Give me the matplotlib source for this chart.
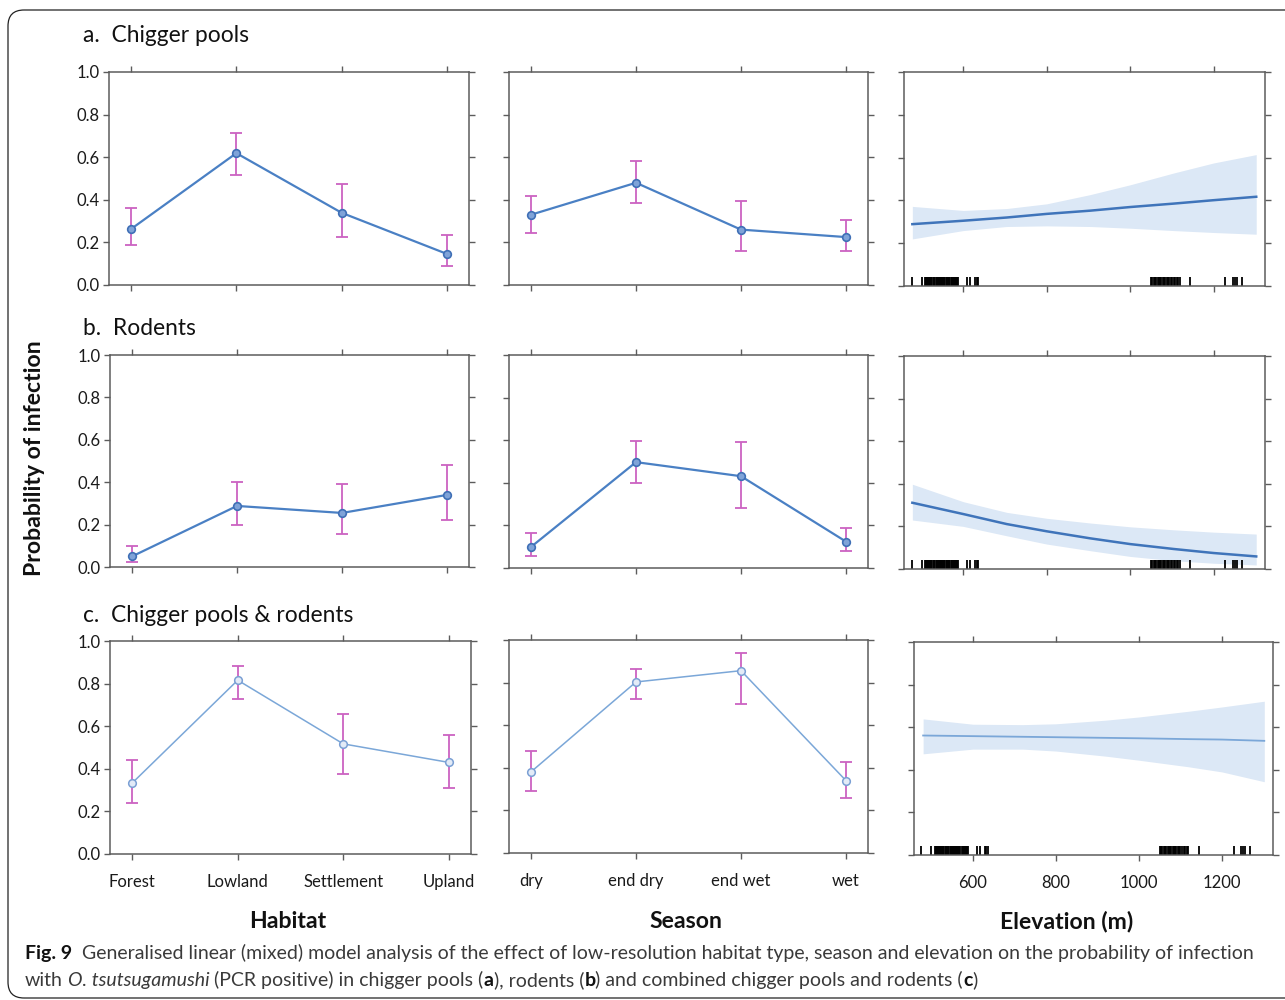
import matplotlib
matplotlib.use("Agg")
import matplotlib.pyplot as plt
import numpy as np
from matplotlib import font_manager
from matplotlib.patches import FancyBboxPatch

# ---------------- data ----------------
habitats = ["Forest", "Lowland", "Settlement", "Upland"]
seasons = ["dry", "end dry", "end wet", "wet"]

a_hab = [0.263, 0.619, 0.339, 0.146]
a_hab_lo = [0.188, 0.517, 0.226, 0.088]
a_hab_hi = [0.360, 0.713, 0.472, 0.235]
a_sea = [0.330, 0.480, 0.260, 0.225]
a_sea_lo = [0.245, 0.385, 0.160, 0.160]
a_sea_hi = [0.420, 0.580, 0.395, 0.305]

b_hab = [0.050, 0.288, 0.255, 0.340]
b_hab_lo = [0.024, 0.199, 0.155, 0.223]
b_hab_hi = [0.100, 0.400, 0.390, 0.480]
b_sea = [0.099, 0.497, 0.431, 0.124]
b_sea_lo = [0.056, 0.398, 0.282, 0.080]
b_sea_hi = [0.165, 0.597, 0.592, 0.187]

c_hab = [0.333, 0.816, 0.517, 0.430]
c_hab_lo = [0.238, 0.728, 0.377, 0.311]
c_hab_hi = [0.441, 0.883, 0.658, 0.558]
c_sea = [0.381, 0.803, 0.856, 0.340]
c_sea_lo = [0.290, 0.721, 0.699, 0.260]
c_sea_hi = [0.477, 0.865, 0.940, 0.428]

elev_ab = [478, 600, 704, 800, 904, 1000, 1104, 1200, 1302]
a_elev_fit = [0.289, 0.305, 0.320, 0.337, 0.352, 0.369, 0.385, 0.401, 0.417]
a_elev_lo = [0.220, 0.259, 0.278, 0.281, 0.278, 0.270, 0.259, 0.250, 0.242]
a_elev_hi = [0.372, 0.353, 0.362, 0.384, 0.427, 0.473, 0.528, 0.575, 0.614]
b_elev_fit = [0.311, 0.258, 0.211, 0.177, 0.144, 0.117, 0.094, 0.075, 0.059]
b_elev_lo = [0.230, 0.200, 0.156, 0.117, 0.086, 0.059, 0.039, 0.027, 0.019]
b_elev_hi = [0.398, 0.316, 0.266, 0.238, 0.216, 0.198, 0.184, 0.173, 0.164]

elev_c = [480, 600, 720, 800, 920, 1000, 1120, 1200, 1302]
c_elev_fit = [0.561, 0.558, 0.555, 0.553, 0.550, 0.548, 0.544, 0.542, 0.536]
c_elev_lo = [0.475, 0.497, 0.497, 0.488, 0.464, 0.445, 0.414, 0.390, 0.344]
c_elev_hi = [0.639, 0.614, 0.612, 0.616, 0.633, 0.648, 0.675, 0.695, 0.722]

rug_elev = [476, 500, 508, 510, 513, 515, 518, 521, 523, 526, 529, 531, 534,
            536, 539, 541, 544, 547, 549, 552, 554, 557, 560, 562, 565, 567,
            570, 573, 575, 578, 580, 583, 586, 588, 610, 616, 628, 632, 636,
            1050, 1053, 1056, 1060, 1063, 1066, 1070, 1072, 1075, 1078, 1081,
            1084, 1088, 1090, 1093, 1097, 1100, 1104, 1108, 1111, 1115, 1119,
            1144, 1228, 1246, 1250, 1255, 1268]

elev_ticks = [600, 800, 1000, 1200]
y_ticks = [0.0, 0.2, 0.4, 0.6, 0.8, 1.0]

# ---------------- style ----------------
plt.rcParams["font.family"] = ["Lato", "DejaVu Sans"]
W, H = 1285, 1000
fig = plt.figure(figsize=(W / 100, H / 100), dpi=100)
fig.patch.set_facecolor("white")

SPINE = "#5c5c5c"
LINE_DARK = "#4a80c4"
LINE_LIGHT = "#7ba7d8"
ERR = "#cc62c2"
BAND = "#dce8f6"
CURVE = "#3f74ba"


def add_ax(x0, y0, x1, y1):
    return fig.add_axes([x0 / W, 1 - y1 / H, (x1 - x0) / W, (y1 - y0) / H])


def style(ax, xlabels=False, ylabels=False):
    for s in ax.spines.values():
        s.set_color(SPINE)
        s.set_linewidth(1.1)
    ax.tick_params(direction="out", length=4.5, width=1.0, color=SPINE,
                   top=True, right=True, labelsize=12, labelcolor="#1a1a1a")
    ax.tick_params(axis="x", labelbottom=xlabels, pad=10)
    ax.tick_params(axis="y", labelleft=ylabels, pad=2)
    ax.set_ylim(0, 1)
    ax.set_yticks(y_ticks)
    ax.set_yticklabels([f"{v:.1f}" for v in y_ticks])


def cat_panel(ax, cats, y, lo, hi, light, xlabels, ylabels):
    x = np.arange(len(cats))
    y = np.asarray(y); lo = np.asarray(lo); hi = np.asarray(hi)
    ax.errorbar(x, y, yerr=[y - lo, hi - y], fmt="none", ecolor=ERR,
                elinewidth=1.3, capsize=4, capthick=1.3, zorder=2)
    if light:
        ax.plot(x, y, "-", color=LINE_LIGHT, lw=1.1, zorder=3)
        ax.plot(x, y, "o", ms=5.5, mfc="#e3ebf7", mec="#7a9fd4", mew=1.1, zorder=4)
    else:
        ax.plot(x, y, "-", color=LINE_DARK, lw=1.6, zorder=3)
        ax.plot(x, y, "o", ms=5.5, mfc="#7fa3d8", mec="#3f6fb6", mew=1.2, zorder=4)
    ax.set_xticks(x)
    ax.set_xticklabels(cats)
    ax.set_xlim(-0.21, 3.21)
    style(ax, xlabels, ylabels)


def elev_panel(ax, ex, fit, lo, hi, light, xlabels):
    ax.fill_between(ex, lo, hi, color=BAND, lw=0, zorder=1)
    ax.plot(ex, fit, color=(LINE_LIGHT if light else CURVE),
            lw=(1.3 if light else 1.8), zorder=3)
    ax.vlines(rug_elev, 0, 0.04, colors="black", lw=1.3, zorder=2)
    ax.set_xlim(458, 1323)
    ax.set_xticks(elev_ticks)
    ax.set_xticklabels([str(v) for v in elev_ticks])
    style(ax, xlabels, False)


# Row a
cat_panel(add_ax(109, 72, 469, 285), habitats, a_hab, a_hab_lo, a_hab_hi, False, False, True)
cat_panel(add_ax(509, 72, 868, 285), seasons, a_sea, a_sea_lo, a_sea_hi, False, False, False)
elev_panel(add_ax(904, 72, 1265, 286), elev_ab, a_elev_fit, a_elev_lo, a_elev_hi, False, False)
# Row b
cat_panel(add_ax(110, 355, 469, 567), habitats, b_hab, b_hab_lo, b_hab_hi, False, False, True)
cat_panel(add_ax(509, 355, 868, 568), seasons, b_sea, b_sea_lo, b_sea_hi, False, False, False)
elev_panel(add_ax(904, 356, 1265, 569), elev_ab, b_elev_fit, b_elev_lo, b_elev_hi, False, False)
# Row c
cat_panel(add_ax(110, 641, 471, 854), habitats, c_hab, c_hab_lo, c_hab_hi, True, True, True)
cat_panel(add_ax(509, 640, 868, 853), seasons, c_sea, c_sea_lo, c_sea_hi, True, True, False)
elev_panel(add_ax(914, 642, 1273, 855), elev_c, c_elev_fit, c_elev_lo, c_elev_hi, True, True)

# Panel titles
for txt, yc in [("a.  Chigger pools", 36), ("b.  Rodents", 328), ("c.  Chigger pools & rodents", 616)]:
    fig.text(83 / W, 1 - yc / H, txt, fontsize=16.4, color="#111111", ha="left", va="center")

# Axis labels
fig.text(35 / W, 1 - 458 / H, "Probability of infection", rotation=90, fontsize=16.6,
         fontweight="bold", ha="center", va="center", color="#111111")
for txt, xc in [("Habitat", 288), ("Season", 686), ("Elevation (m)", 1067)]:
    fig.text(xc / W, 1 - 922 / H, txt, fontsize=16.6, fontweight="bold",
             ha="center", va="center", color="#111111")

# Border
fig.patches.append(FancyBboxPatch((0.08, 0.02), 13.5, 9.88,
                                  boxstyle="round,pad=0,rounding_size=0.16",
                                  transform=fig.dpi_scale_trans, fill=False,
                                  ec="#222222", lw=0.9))

# Caption
names = {f.name for f in font_manager.fontManager.ttflist}
cap_family = "Liberation Sans Narrow" if "Liberation Sans Narrow" in names else "Lato"
renderer = fig.canvas.get_renderer()


def measure(s, size, weight="normal", style_="normal"):
    t = fig.text(0, 0, s, fontsize=size, family=cap_family, fontweight=weight, fontstyle=style_)
    w = t.get_window_extent(renderer).width
    t.remove()
    return w


line1 = [("Fig. 9", "bold", "normal", "#111111"),
         ("Generalised linear (mixed) model analysis of the effect of low-resolution habitat type, season and elevation on the probability of infection",
          "normal", "normal", "#3a3a3a")]
line2 = [("with", "normal", "normal", "#3a3a3a"),
         ("O. tsutsugamushi", "normal", "italic", "#3a3a3a"),
         ("(PCR positive) in chigger pools (", "normal", "normal", "#3a3a3a"),
         ("a", "bold", "normal", "#111111"),
         ("), rodents (", "normal", "normal", "#3a3a3a"),
         ("b", "bold", "normal", "#111111"),
         (") and combined chigger pools and rodents (", "normal", "normal", "#3a3a3a"),
         ("c", "bold", "normal", "#111111"),
         (")", "normal", "normal", "#3a3a3a")]
gaps1 = [0, 2]
gaps2 = [0, 1, 1, 0, 0, 0, 0, 0, 0]


def line_width(runs, gaps, size):
    sp = measure("x x", size) - measure("xx", size)
    total = 0
    for (s, wgt, sty, col), g in zip(runs, gaps):
        total += g * sp + measure(s, size, wgt, sty)
    return total


base = 12.0
size = base * (1248 - 25) / line_width(line1, gaps1, base)


def draw_line(runs, gaps, x, ybase, size):
    sp = measure("x x", size) - measure("xx", size)
    for (s, wgt, sty, col), g in zip(runs, gaps):
        x += g * sp
        fig.text(x / W, 1 - ybase / H, s, fontsize=size, family=cap_family,
                 fontweight=wgt, fontstyle=sty, color=col, ha="left", va="baseline")
        x += measure(s, size, wgt, sty)


draw_line(line1, gaps1, 25, 959, size)
draw_line(line2, gaps2, 25, 986, size)

fig.savefig("out.png", dpi=100, facecolor="white")
